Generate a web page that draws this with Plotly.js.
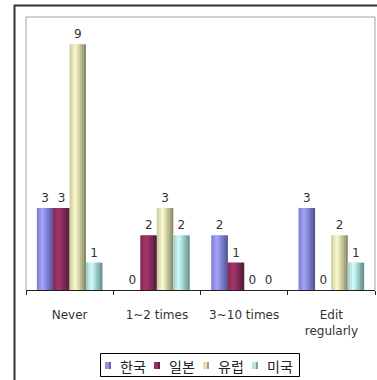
<!DOCTYPE html>
<html>
<head>
<meta charset="utf-8">
<script src="https://cdn.plot.ly/plotly-3.0.1.min.js"></script>
<style>
  html, body { margin: 0; padding: 0; background: #fff; }
  #chart { width: 377px; height: 380px; }
</style>
</head>
<body>
<div id="chart"></div>
<script>
// Responses per editing frequency, by region
const categories = ['Never', '1~2 times', '3~10 times', 'Edit<br>regularly'];
const seriesNames = ['한국', '일본', '유럽', '미국'];
const korea  = [3, 0, 2, 3];
const japan  = [3, 2, 1, 0];
const europe = [9, 3, 0, 2];
const usa    = [1, 2, 0, 1];

const seriesValues = [korea, japan, europe, usa];
// peak (highlight) colour and edge shading colour for each series
const peakColors = ['#a6a6ff', '#a8376f', '#ffffd0', '#d4ffff'];
const edgeColors = ['#4d4d8c', '#4e1a34', '#80805e', '#5d8585'];
const baseColors = ['#8b8be6', '#8a2b5c', '#e6e6b8', '#b0e0e0'];

const groupWidth = 0.75;
const barWidth = groupWidth / seriesValues.length;
const slices = 8;

function hex(c) { return [1, 3, 5].map(i => parseInt(c.substr(i, 2), 16)); }
function mix(a, b, t) {
  const A = hex(a), B = hex(b);
  return 'rgb(' + A.map((v, i) => Math.round(v + (B[i] - v) * t)).join(',') + ')';
}
// cylinder-like shading: bright a third of the way across, darker at edges
function shade(s, t) {
  const peak = 0.35;
  const d = t < peak ? (peak - t) / peak * 0.45 : (t - peak) / (1 - peak);
  return mix(peakColors[s], edgeColors[s], Math.min(1, d));
}

const labelFont = 'DejaVu Sans, Verdana, sans-serif';

const traces = [];
seriesValues.forEach((vals, s) => {
  const offset = -groupWidth / 2 + s * barWidth;
  traces.push({
    type: 'bar', x: categories, y: vals, name: seriesNames[s],
    width: barWidth, offset: offset,
    marker: { color: baseColors[s], line: { width: 0 } },
    text: vals.map(String), textposition: 'outside', cliponaxis: false,
    textfont: { size: 12, color: '#333', family: labelFont },
    hoverinfo: 'skip'
  });
  for (let k = 0; k < slices; k++) {
    const sw = barWidth / slices;
    traces.push({
      type: 'bar', x: categories, y: vals, name: seriesNames[s],
      width: sw * 1.02, offset: offset + k * sw,
      marker: { color: shade(s, (k + 0.5) / slices), line: { width: 0 } },
      hoverinfo: 'skip'
    });
  }
});

// plot-area geometry in pixels, used to place the key below the axis
const M = { l: 26, r: 2, t: 17, b: 90 };
const plotW = 377 - M.l - M.r, plotH = 380 - M.t - M.b;
const px2x = px => (px - M.l) / plotW;
const px2y = py => (380 - M.b - py) / plotH;

const shapes = [
  // plot frame (left, top, right)
  { type: 'path', xref: 'paper', yref: 'paper',
    path: 'M0,0 L0,1 L1,1 L1,0', line: { color: '#a0a0a0', width: 1 } },
  // outer chart border
  { type: 'path', xref: 'paper', yref: 'paper',
    path: `M${px2x(14.5)},${px2y(400)} L${px2x(14.5)},${px2y(5.5)} L${px2x(400)},${px2y(5.5)}`,
    line: { color: '#333', width: 2 } },
  // key box
  { type: 'rect', xref: 'paper', yref: 'paper',
    x0: px2x(100.5), x1: px2x(299.5), y0: px2y(353.5), y1: px2y(376.5),
    line: { color: '#000', width: 1 }, fillcolor: '#fff' }
];
const annotations = [];
const keyLeft = 105, keyPitch = 49, swatchW = 6, keyTop = 362, keyBottom = 369;
seriesNames.forEach((name, s) => {
  const x0 = keyLeft + s * keyPitch;
  for (let k = 0; k < 3; k++) {
    shapes.push({
      type: 'rect', xref: 'paper', yref: 'paper', layer: 'above',
      x0: px2x(x0 + k * 2), x1: px2x(x0 + k * 2 + 2),
      y0: px2y(keyBottom), y1: px2y(keyTop),
      line: { width: 0 }, fillcolor: shade(s, (k + 0.5) / 3)
    });
  }
  annotations.push({
    xref: 'paper', yref: 'paper', x: px2x(x0 + swatchW + 7), y: px2y(365.5),
    xanchor: 'left', yanchor: 'middle', showarrow: false, text: name,
    font: { family: 'Noto Sans CJK KR, sans-serif', size: 14, color: '#222' }
  });
});

const layout = {
  width: 377, height: 380,
  margin: { l: M.l, r: M.r, t: M.t, b: M.b, autoexpand: false },
  paper_bgcolor: '#fff', plot_bgcolor: '#fff',
  barmode: 'overlay',
  showlegend: false,
  font: { family: labelFont, size: 12, color: '#333' },
  xaxis: {
    type: 'category', range: [-0.5, 3.5],
    showline: true, linecolor: '#222', linewidth: 1,
    ticks: 'outside', tickson: 'boundaries', ticklen: 4, tickcolor: '#222',
    ticklabelstandoff: 14,
    showgrid: false, zeroline: false,
    tickfont: { size: 12, color: '#333', family: labelFont }
  },
  yaxis: {
    range: [0, 10], showticklabels: false, showgrid: false,
    zeroline: false, showline: false, ticks: ''
  },
  shapes: shapes,
  annotations: annotations
};

Plotly.newPlot('chart', traces, layout, { displayModeBar: false, staticPlot: true });
</script>
</body>
</html>
